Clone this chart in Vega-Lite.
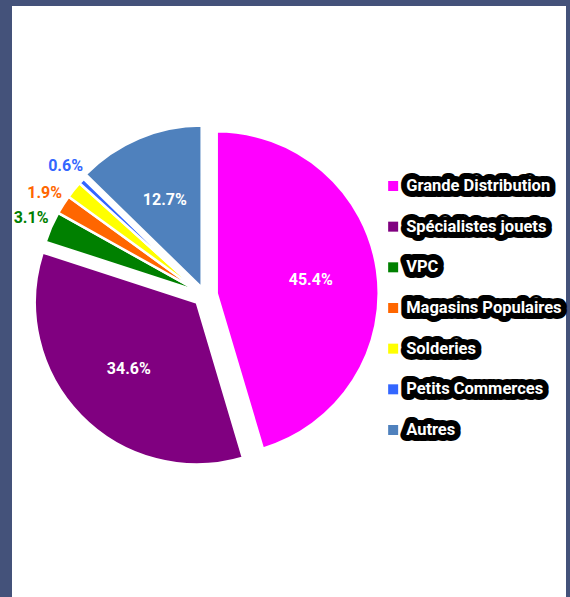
{
  "$schema": "https://vega.github.io/schema/vega-lite/v6.json",
  "background": "#44527a",
  "padding": {"left": 12, "top": 6, "right": 4, "bottom": 0},
  "autosize": {"type": "none"},
  "width": 554,
  "height": 591,
  "config": {"view": {"fill": "white", "stroke": null}},
  "data": {
    "values": [
      {"category": "Grande Distribution", "share": 0.454, "idx": 1},
      {"category": "Spécialistes jouets", "share": 0.346, "idx": 2},
      {"category": "VPC", "share": 0.031, "idx": 3},
      {"category": "Magasins Populaires", "share": 0.019, "idx": 4},
      {"category": "Solderies", "share": 0.017, "idx": 5},
      {"category": "Petits Commerces", "share": 0.006, "idx": 6},
      {"category": "Autres", "share": 0.127, "idx": 7}
    ]
  },
  "resolve": {"scale": {"y": "independent"}},
  "layer": [
    {
      "encoding": {
        "theta": {"field": "share", "type": "quantitative", "stack": true},
        "order": {"field": "idx", "type": "quantitative"},
        "x": {"datum": 0.348, "type": "quantitative", "scale": {"domain": [0, 1]}, "axis": null},
        "y": {"datum": 0.489, "type": "quantitative", "scale": {"domain": [0, 1], "reverse": true}, "axis": null}
      },
      "layer": [
        {
          "mark": {
            "type": "arc", "outerRadius": 162, "stroke": "white", "strokeWidth": 2.5,
            "xOffset": {"expr": "datum.category === 'Grande Distribution' ? 11.9 : datum.category === 'Spécialistes jouets' ? -8 : datum.category === 'Autres' ? -3.1 : -5.1"},
            "yOffset": {"expr": "datum.category === 'Grande Distribution' ? -1.7 : datum.category === 'Spécialistes jouets' ? 7.5 : datum.category === 'Autres' ? -7.4 : -3.1"}
          },
          "encoding": {
            "color": {
              "field": "category",
              "type": "nominal",
              "scale": {
                "domain": ["Grande Distribution", "Spécialistes jouets", "VPC", "Magasins Populaires", "Solderies", "Petits Commerces", "Autres"],
                "range": ["#ff00ff", "#800080", "#008000", "#ff6600", "#ffff00", "#3366ff", "#4f81bd"]
              },
              "legend": null
            }
          }
        },
        {
          "mark": {
            "type": "text", "radius": 95, "font": "Roboto", "fontSize": 16, "fontWeight": "bold", "fill": "white",
            "xOffset": {"expr": "datum.category === 'Grande Distribution' ? 11.9 : datum.category === 'Spécialistes jouets' ? -8 : datum.category === 'Autres' ? -3.1 : -5.1"},
            "yOffset": {"expr": "datum.category === 'Grande Distribution' ? -1.7 : datum.category === 'Spécialistes jouets' ? 7.5 : datum.category === 'Autres' ? -7.4 : -3.1"}
          },
          "encoding": {
            "text": {"condition": {"test": "datum.share >= 0.1", "field": "share", "type": "quantitative", "format": ".1%"}, "value": ""}
          }
        },
        {
          "mark": {
            "type": "text", "radius": 184, "font": "Roboto", "fontSize": 16, "fontWeight": "bold",
            "xOffset": -5.1, "yOffset": -3.1
          },
          "encoding": {
            "text": {"condition": {"test": "datum.share < 0.1 && datum.category !== 'Solderies'", "field": "share", "type": "quantitative", "format": ".1%"}, "value": ""},
            "color": {"field": "category", "type": "nominal", "legend": null}
          }
        }
      ]
    },
    {
      "encoding": {
        "x": {"datum": 0.688, "type": "quantitative", "scale": {"domain": [0, 1]}, "axis": null},
        "y": {
          "field": "idx",
          "type": "quantitative",
          "scale": {"domain": [-3.426, 11.107], "reverse": true, "nice": false, "zero": false},
          "axis": null
        }
      },
      "layer": [
        {
          "mark": {"type": "point", "shape": "square", "filled": true, "size": 100, "opacity": 1},
          "encoding": {
            "color": {"field": "category", "type": "nominal", "legend": null}
          }
        },
        {
          "mark": {"type": "text", "align": "left", "baseline": "middle", "dx": 13, "font": "Roboto", "fontSize": 16.5, "fontWeight": "bold", "fill": "black", "stroke": "black", "strokeWidth": 12, "strokeJoin": "round"},
          "encoding": {
            "text": {"field": "category"}
          }
        },
        {
          "mark": {"type": "text", "align": "left", "baseline": "middle", "dx": 13, "font": "Roboto", "fontSize": 16.5, "fontWeight": "bold", "fill": "white"},
          "encoding": {
            "text": {"field": "category"}
          }
        }
      ]
    }
  ]
}
